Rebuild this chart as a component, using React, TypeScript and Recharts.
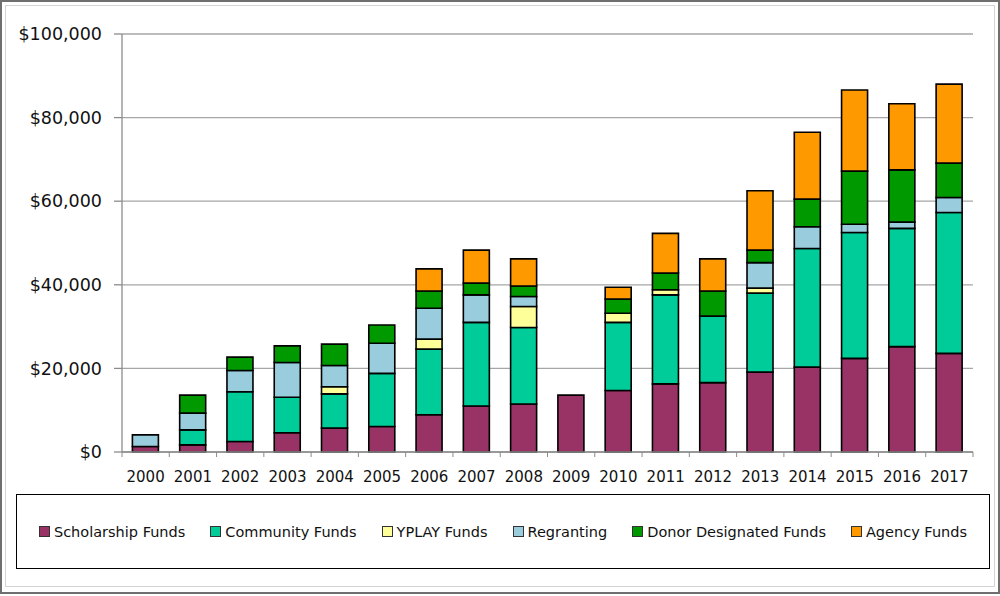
import React from "react";
import { BarChart, Bar, XAxis, YAxis, CartesianGrid, Legend } from "recharts";

const years = ["2000","2001","2002","2003","2004","2005","2006","2007","2008","2009","2010","2011","2012","2013","2014","2015","2016","2017"];
const scholarship = [1300,1700,2500,4600,5700,6100,8900,11000,11500,13600,14700,16300,16600,19100,20300,22400,25200,23600];
const community =   [0,3600,11900,8500,8200,12700,15700,20000,18300,0,16300,21300,15900,18900,28400,30100,28300,33700];
const yplay =       [0,0,0,0,1700,0,2400,0,5000,0,2200,1200,0,1200,0,0,0,0];
const regranting =  [2800,4000,5100,8300,5100,7200,7400,6600,2400,0,0,0,0,6100,5200,2000,1500,3600];
const donor =       [0,4300,3200,4000,5100,4400,4100,2800,2500,0,3400,4000,6000,3000,6600,12700,12500,8200];
const agency =      [0,0,0,0,0,0,5300,7900,6500,0,2800,9500,7700,14200,16000,19400,15800,18900];
const yTicks = [0,20000,40000,60000,80000,100000];
const seriesNames = ["Scholarship Funds","Community Funds","YPLAY Funds","Regranting","Donor Designated Funds","Agency Funds"];

const data = years.map((y, i) => ({
  year: y,
  scholarship: scholarship[i],
  community: community[i],
  yplay: yplay[i],
  regranting: regranting[i],
  donor: donor[i],
  agency: agency[i],
}));

const CHART_W = 1000;
const CHART_H = 596;
const M_LEFT = 0;
const Y_W = 122;
const M_RIGHT = 27;
const PLOT_W = CHART_W - M_LEFT - Y_W - M_RIGHT;
const BAND = PLOT_W / years.length;
const FONT = "'DejaVu Sans', sans-serif";

const XTick = (props: any) => {
  const { x, y, payload, index } = props;
  const left = x - BAND / 2;
  const right = x + BAND / 2;
  return (
    <g>
      <line x1={left} x2={left} y1={y} y2={y + 5} stroke="#8c8c8c" strokeWidth={1} />
      {index === years.length - 1 && (
        <line x1={right} x2={right} y1={y} y2={y + 5} stroke="#8c8c8c" strokeWidth={1} />
      )}
      <text x={x} y={y + 30} textAnchor="middle" fontFamily={FONT} fontSize={15} fill="#111">
        {payload.value}
      </text>
    </g>
  );
};

const fmt = (v: number) => "$" + v.toLocaleString("en-US");

const LegendBox = (props: any) => {
  const payload = [...(props.payload || [])].sort(
    (a: any, b: any) => seriesNames.indexOf(a.value) - seriesNames.indexOf(b.value)
  );
  return (
    <div
      style={{
        boxSizing: "border-box",
        width: 974,
        height: 75,
        border: "1px solid #000",
        display: "flex",
        alignItems: "center",
        justifyContent: "center",
        gap: 25,
        fontFamily: FONT,
        fontSize: 14.5,
        color: "#111",
        background: "#fff",
      }}
    >
      {payload.map((e: any) => (
        <span key={e.value} style={{ display: "flex", alignItems: "center", whiteSpace: "nowrap" }}>
          <span
            style={{
              display: "inline-block",
              boxSizing: "border-box",
              width: 11,
              height: 11,
              background: e.color,
              border: "1px solid #333",
              marginRight: 4,
            }}
          />
          {e.value}
        </span>
      ))}
    </div>
  );
};

export default function App() {
  return (
    <div
      style={{
        position: "absolute",
        left: 0,
        top: 0,
        width: CHART_W,
        height: CHART_H,
        background: "#fff",
        fontFamily: FONT,
      }}
    >
      <div style={{ position: "absolute", left: 0, top: 0, width: 1000, height: 594, boxSizing: "border-box", border: "2px solid #6f6f6f" }} />
      <div style={{ position: "absolute", left: 5, top: 5, width: 990, height: 582, boxSizing: "border-box", border: "1px solid #d4d4d4" }} />
      <div style={{ position: "absolute", left: 0, top: 0 }}>
        <BarChart
          width={CHART_W}
          height={CHART_H}
          data={data}
          margin={{ top: 34, right: M_RIGHT, left: M_LEFT, bottom: 39 }}
          barCategoryGap="22%"
        >
          <CartesianGrid vertical={false} stroke="#a6a6a6" strokeWidth={1.3} />
          <XAxis
            dataKey="year"
            height={30}
            tick={<XTick />}
            tickLine={false}
            tickSize={0}
            tickMargin={0}
            axisLine={{ stroke: "#8c8c8c", strokeWidth: 1.3 }}
            interval={0}
          />
          <YAxis
            width={Y_W}
            domain={[0, 100000]}
            ticks={yTicks}
            tickFormatter={fmt}
            tickSize={8}
            tickMargin={12}
            tickLine={{ stroke: "#8c8c8c", strokeWidth: 1.3 }}
            axisLine={{ stroke: "#8c8c8c", strokeWidth: 1.3 }}
            tick={{ fontFamily: FONT, fontSize: 17.5, fill: "#111" }}
            interval={0}
          />
          <Legend
            verticalAlign="bottom"
            content={<LegendBox />}
            wrapperStyle={{ left: 16, top: 494, bottom: "auto", width: 974 }}
          />
          <Bar dataKey="scholarship" name="Scholarship Funds" stackId="a" fill="#993366" stroke="#000" strokeWidth={1.6} isAnimationActive={false} />
          <Bar dataKey="community" name="Community Funds" stackId="a" fill="#00CC99" stroke="#000" strokeWidth={1.6} isAnimationActive={false} />
          <Bar dataKey="yplay" name="YPLAY Funds" stackId="a" fill="#FFFF99" stroke="#000" strokeWidth={1.6} isAnimationActive={false} />
          <Bar dataKey="regranting" name="Regranting" stackId="a" fill="#99CCDD" stroke="#000" strokeWidth={1.6} isAnimationActive={false} />
          <Bar dataKey="donor" name="Donor Designated Funds" stackId="a" fill="#009900" stroke="#000" strokeWidth={1.6} isAnimationActive={false} />
          <Bar dataKey="agency" name="Agency Funds" stackId="a" fill="#FF9900" stroke="#000" strokeWidth={1.6} isAnimationActive={false} />
        </BarChart>
      </div>
    </div>
  );
}
